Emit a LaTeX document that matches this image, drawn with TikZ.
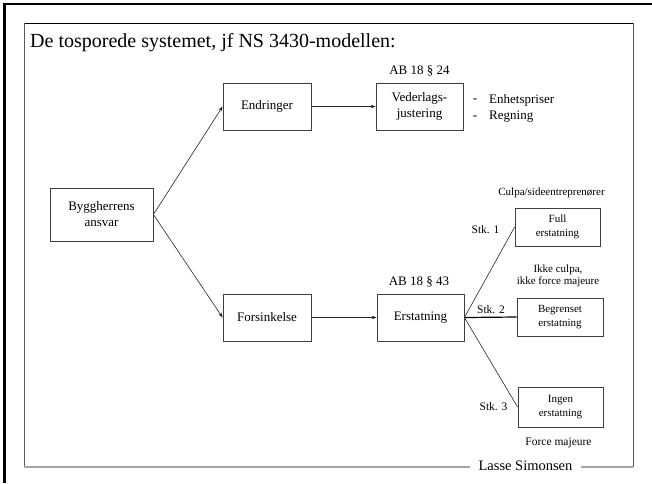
\documentclass[tikz,border=0pt]{standalone}
\usepackage{fontspec}
\setmainfont{Liberation Serif}
\usetikzlibrary{arrows.meta}
\begin{document}
\begin{tikzpicture}[x=1pt,y=1pt,
 box/.style={draw=black!75, line width=0.8pt, align=center, inner sep=0pt, font=\fontsize{13}{16}\selectfont},
 sbox/.style={box, font=\fontsize{11}{13.5}\selectfont},
 lbl/.style={inner sep=0pt, align=center, font=\fontsize{11}{12.5}\selectfont},
 mlbl/.style={inner sep=0pt, align=center, font=\fontsize{13}{16}\selectfont},
 arr/.style={-{Stealth[length=5pt,width=3.5pt]}, line width=0.6pt, black!85},
 ln/.style={line width=0.6pt, black!85}]
\useasboundingbox (0,0) rectangle (652,-483);
\fill[white] (0,0) rectangle (652,-483);
% outer border
\draw[line width=2.5pt] (652,-4) -- (4.5,-4) -- (4.5,-483);
% inner frame
\draw[black, line width=0.8pt] (24,-23) -- (633,-23);
\draw[black!65, line width=0.8pt] (24,-23) -- (24,-467);
\draw[black!65, line width=0.8pt] (633,-23) -- (633,-467);
\node[inner sep=0pt, font=\fontsize{14.5}{16}\selectfont] (lasse) at (525.5,-466) {Lasse Simonsen};
\coordinate (bl) at (24,-467);
\coordinate (br) at (633,-467);
\draw[black!35, line width=1.5pt] (bl) -- ([xshift=-8pt]lasse.west |- bl);
\draw[black!35, line width=1.5pt] ([xshift=8pt]lasse.east |- br) -- (br);
% title
\node[anchor=base west, inner sep=0pt, font=\fontsize{20}{24}\selectfont] (title) at (30,-47) {De tosporede systemet, jf NS 3430-modellen:};
% boxes
\node[box, minimum width=103pt, minimum height=53pt] (bygg) at (101.5,-214.5) {Byggherrens\\ansvar};
\node[box, minimum width=88pt, minimum height=47pt] (endr) at (267,-106.5) {Endringer};
\node[box, minimum width=87pt, minimum height=47pt] (veder) at (419.5,-106.5) {Vederlags-\\justering};
\node[box, minimum width=88pt, minimum height=47pt] (fors) at (267,-317.5) {Forsinkelse};
\node[box, minimum width=87pt, minimum height=47pt] (erst) at (420.5,-317.5) {Erstatning};
\node[sbox, minimum width=85pt, minimum height=38pt] (full) at (557.5,-227) {Full\\erstatning};
\node[sbox, minimum width=86pt, minimum height=38pt] (begr) at (560,-317) {Begrenset\\erstatning};
\node[sbox, minimum width=85pt, minimum height=40pt] (ingen) at (560.5,-407) {Ingen\\erstatning};
% labels
\node[mlbl] (ab24) at (419.5,-71) {AB 18 § 24};
\node[mlbl] (ab43) at (419,-282) {AB 18 § 43};
\node[mlbl] (d1) at (475,-101) {-};
\node[mlbl, anchor=west] (enh) at (489,-100) {Enhetspriser};
\node[mlbl] (d2) at (475,-118) {-};
\node[mlbl, anchor=west] (reg) at (489,-117) {Regning};
\node[lbl] (culpa) at (551.5,-193) {Culpa/sideentreprenører};
\node[lbl, font=\fontsize{11.5}{13}\selectfont] (stk1) at (485.5,-230) {Stk. 1};
\node[lbl] (ikke) at (558,-276) {Ikke culpa,\\ikke force majeure};
\node[lbl, font=\fontsize{11.5}{13}\selectfont] (stk2) at (491,-310) {Stk. 2};
\node[lbl, font=\fontsize{11.5}{13}\selectfont] (stk3) at (493.5,-407) {Stk. 3};
\node[lbl, font=\fontsize{11.5}{13}\selectfont] (force) at (558.5,-443) {Force majeure};
% connectors
\draw[arr] (bygg.east) -- (endr.west);
\draw[arr] (bygg.east) -- (fors.west);
\draw[arr] (endr.east) -- (veder.west);
\draw[arr] (fors.east) -- (erst.west);
\draw[ln] (erst.east) -- (full.west);
\draw[black, line width=1.2pt] (erst.east) -- (begr.west);
\draw[ln] (erst.east) -- (ingen.west);
\end{tikzpicture}
\end{document}
